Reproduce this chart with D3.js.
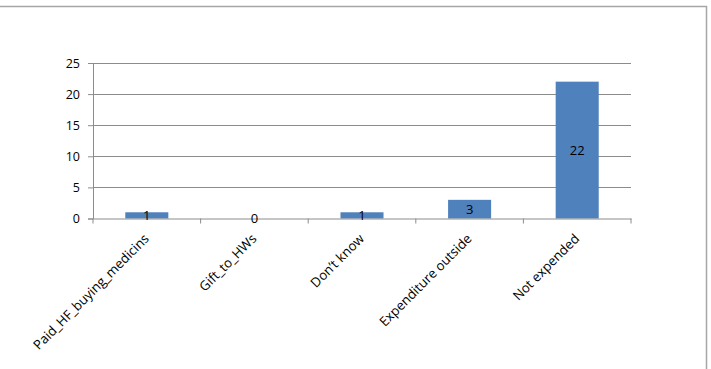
<!DOCTYPE html>
<html lang="en">
<head>
  <meta charset="utf-8" />
  <title>Expenditure</title>
  <script src="https://cdnjs.cloudflare.com/ajax/libs/d3/7.8.5/d3.min.js"></script>
  <style>
    body { margin: 0; background: #fff; }
    svg { display: block; font-family: 'Open Sans', sans-serif; }
  </style>
</head>
<body>
<svg id="chart" width="711" height="369"></svg>
<script>
const categories = ["Paid_HF_buying_medicins", "Gift_to_HWs", "Don\u2019t know", "Expenditure outside", "Not expended"];
const values = [1, 0, 1, 3, 22];
const yTicks = [0, 5, 10, 15, 20, 25];

const svg = d3.select("#chart");
const margin = {top: 63, left: 93, right: 80, bottom: 150.5};
const width = 711 - margin.left - margin.right;
const height = 369 - margin.top - margin.bottom;

// outer frame (top + right edge)
svg.append("path")
  .attr("d", "M0,6.5H706.5V369")
  .attr("fill", "none")
  .attr("stroke", "#a6a6a6")
  .attr("stroke-width", 1.5);

const g = svg.append("g").attr("transform", `translate(${margin.left},${margin.top})`);

const x = d3.scaleBand().domain(categories).range([0, width]).paddingInner(0.6).paddingOuter(0.3);
const xb = d3.scaleBand().domain(categories).range([0, width]);
const y = d3.scaleLinear().domain([0, 25]).range([height, 0]);

// gridlines
g.selectAll(".grid")
  .data(yTicks.slice(1))
  .enter()
  .append("line")
  .attr("x1", 0)
  .attr("x2", width)
  .attr("y1", d => Math.round(y(d)) + 0.5)
  .attr("y2", d => Math.round(y(d)) + 0.5)
  .attr("stroke", "#8c8c8c")
  .attr("stroke-width", 1);

// y axis
const yAxis = g.append("g")
  .call(d3.axisLeft(y).tickValues(yTicks).tickSize(5).tickPadding(8));
yAxis.select(".domain").attr("stroke", "#8c8c8c");
yAxis.selectAll(".tick line").attr("stroke", "#8c8c8c");
yAxis.attr("font-size", 12.5).attr("font-family", "'Open Sans', sans-serif");
yAxis.selectAll("text").attr("fill", "#000");

// bars
g.selectAll(".bar")
  .data(values)
  .enter()
  .append("rect")
  .attr("x", (d, i) => x(categories[i]))
  .attr("y", d => y(d))
  .attr("width", x.bandwidth())
  .attr("height", d => height - y(d))
  .attr("fill", "#4f81bd");

// x axis
const xAxis = g.append("g")
  .attr("transform", `translate(0,${height})`)
  .call(d3.axisBottom(xb).tickSize(0).tickFormat(""));
xAxis.select(".domain").attr("stroke", "#8c8c8c");
g.append("g")
  .selectAll("line")
  .data(d3.range(categories.length + 1))
  .enter()
  .append("line")
  .attr("x1", i => i * xb.step())
  .attr("x2", i => i * xb.step())
  .attr("y1", height)
  .attr("y2", height + 5)
  .attr("stroke", "#8c8c8c");

// category labels
g.selectAll(".cat")
  .data(categories)
  .enter()
  .append("text")
  .attr("transform", d => `translate(${xb(d) + xb.bandwidth() / 2 + 3},${height + 21}) rotate(-45)`)
  .attr("text-anchor", "end")
  .style("font-size", "13.2px")
  .attr("fill", "#000")
  .text(d => d);

// value labels
g.selectAll(".val")
  .data(values)
  .enter()
  .append("text")
  .attr("x", (d, i) => x(categories[i]) + x.bandwidth() / 2)
  .attr("y", d => (y(d) + height) / 2)
  .attr("dy", "0.38em")
  .attr("text-anchor", "middle")
  .style("font-size", "13px")
  .attr("fill", "#000")
  .text(d => d);
</script>
</body>
</html>
